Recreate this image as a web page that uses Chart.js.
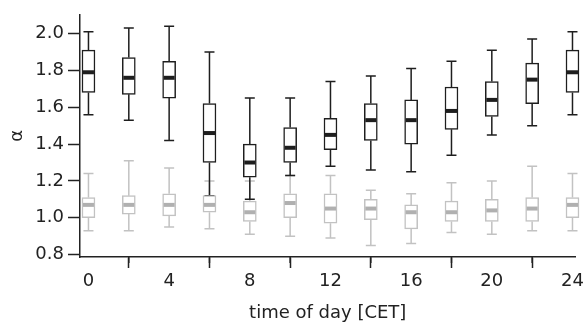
<!DOCTYPE html>
<html>
<head>
<meta charset="utf-8">
<script src="https://cdn.jsdelivr.net/npm/chart.js@4.4.0/dist/chart.umd.min.js"></script>
<style>
    html, body { margin: 0; padding: 0; background: #fff; }
    #wrap { width: 587px; height: 325px; position: relative; }
</style>
</head>
<body>
<div id="wrap"><canvas id="chart"></canvas></div>
<script>

// ==========================
// DATA
// ==========================

const hours = [0, 2, 4, 6, 8, 10, 12, 14, 16, 18, 20, 22, 24];

const blackMin = [1.56, 1.53, 1.42, 1.12, 1.10, 1.23, 1.28, 1.26, 1.25, 1.34, 1.45, 1.50, 1.56];
const blackQ1  = [1.68, 1.67, 1.65, 1.30, 1.22, 1.30, 1.37, 1.42, 1.40, 1.48, 1.55, 1.62, 1.68];
const blackMed = [1.79, 1.76, 1.76, 1.46, 1.30, 1.38, 1.45, 1.53, 1.53, 1.58, 1.64, 1.75, 1.79];
const blackQ3  = [1.91, 1.87, 1.85, 1.62, 1.40, 1.49, 1.54, 1.62, 1.64, 1.71, 1.74, 1.84, 1.91];
const blackMax = [2.01, 2.03, 2.04, 1.90, 1.65, 1.65, 1.74, 1.77, 1.81, 1.85, 1.91, 1.97, 2.01];

const grayMin = [0.93, 0.93, 0.95, 0.94, 0.91, 0.90, 0.89, 0.85, 0.86, 0.92, 0.91, 0.93, 0.93];
const grayQ1  = [1.00, 1.02, 1.01, 1.03, 0.98, 1.00, 0.97, 0.99, 0.94, 0.98, 0.98, 0.98, 1.00];
const grayMed = [1.07, 1.07, 1.07, 1.07, 1.03, 1.08, 1.05, 1.05, 1.03, 1.03, 1.04, 1.05, 1.07];
const grayQ3  = [1.11, 1.12, 1.13, 1.12, 1.09, 1.13, 1.13, 1.10, 1.07, 1.09, 1.10, 1.11, 1.11];
const grayMax = [1.24, 1.31, 1.27, 1.20, 1.20, 1.23, 1.23, 1.15, 1.13, 1.19, 1.20, 1.28, 1.24];

const xTicks = [0, 4, 8, 12, 16, 20, 24];
const xMinorTicks = [2, 6, 10, 14, 18, 22];
const yTicks = [0.8, 1.0, 1.2, 1.4, 1.6, 1.8, 2.0];


// ==========================
// STYLE
// ==========================

const axisColor = "#222";
const blackColor = "#1e1e1e";
const grayColor = "#c2c2c2";
const grayMedColor = "#b0b0b0";
const fontFamily = "'DejaVu Sans', sans-serif";
const fontSize = 18;

const boxWidth = 13;
const capWidth = 10;


// ==========================
// BOX PLOT HELPERS
// ==========================

function drawWhiskers(chart, mins, q1s, q3s, maxs, color) {

    const ctx = chart.ctx;
    const x = chart.scales.x;
    const y = chart.scales.y;

    ctx.save();
    ctx.strokeStyle = color;
    ctx.lineWidth = 1.5;

    hours.forEach((h, i) => {

        const px = x.getPixelForValue(h);

        ctx.beginPath();
        ctx.moveTo(px, y.getPixelForValue(q3s[i]));
        ctx.lineTo(px, y.getPixelForValue(maxs[i]));
        ctx.moveTo(px, y.getPixelForValue(q1s[i]));
        ctx.lineTo(px, y.getPixelForValue(mins[i]));

        ctx.moveTo(px - capWidth / 2, y.getPixelForValue(maxs[i]));
        ctx.lineTo(px + capWidth / 2, y.getPixelForValue(maxs[i]));
        ctx.moveTo(px - capWidth / 2, y.getPixelForValue(mins[i]));
        ctx.lineTo(px + capWidth / 2, y.getPixelForValue(mins[i]));
        ctx.stroke();
    });

    ctx.restore();
}

function drawMedians(chart, meds, color) {

    const ctx = chart.ctx;
    const x = chart.scales.x;
    const y = chart.scales.y;

    ctx.save();
    ctx.strokeStyle = color;
    ctx.lineWidth = 4;

    hours.forEach((h, i) => {
        const px = x.getPixelForValue(h);
        const py = y.getPixelForValue(meds[i]);
        ctx.beginPath();
        ctx.moveTo(px - boxWidth / 2 + 1, py);
        ctx.lineTo(px + boxWidth / 2 - 1, py);
        ctx.stroke();
    });

    ctx.restore();
}

const boxPlugin = {
    id: "boxWhiskers",

    beforeDatasetsDraw(chart) {
        drawWhiskers(chart, grayMin, grayQ1, grayQ3, grayMax, grayColor);
        drawWhiskers(chart, blackMin, blackQ1, blackQ3, blackMax, blackColor);
    },

    afterDatasetsDraw(chart) {
        drawMedians(chart, grayMed, grayMedColor);
        drawMedians(chart, blackMed, blackColor);

        // minor ticks on the time axis
        const ctx = chart.ctx;
        const x = chart.scales.x;
        const bottom = chart.chartArea.bottom;

        ctx.save();
        ctx.strokeStyle = axisColor;
        ctx.lineWidth = 1.5;
        xMinorTicks.forEach(t => {
            const px = x.getPixelForValue(t);
            ctx.beginPath();
            ctx.moveTo(px, bottom);
            ctx.lineTo(px, bottom + 6);
            ctx.stroke();
        });
        ctx.restore();
    }
};


// ==========================
// CHART
// ==========================

const ctx = document.getElementById("chart").getContext("2d");

new Chart(ctx, {
    type: "bar",
    data: {
        datasets: [
            {
                data: hours.map((h, i) => ({ x: h, y: [blackQ1[i], blackQ3[i]] })),
                backgroundColor: "#fff",
                borderColor: blackColor,
                borderWidth: 1.5,
                borderSkipped: false,
                barThickness: boxWidth,
                grouped: false,
                clip: false
            },
            {
                data: hours.map((h, i) => ({ x: h, y: [grayQ1[i], grayQ3[i]] })),
                backgroundColor: "#fff",
                borderColor: grayColor,
                borderWidth: 1.5,
                borderSkipped: false,
                barThickness: boxWidth,
                grouped: false,
                clip: false
            }
        ]
    },
    options: {
        responsive: true,
        maintainAspectRatio: false,
        animation: false,
        layout: {
            padding: { top: 12, right: 10, left: 0, bottom: 0 }
        },
        plugins: {
            legend: { display: false },
            tooltip: { enabled: false }
        },
        scales: {
            x: {
                type: "linear",
                min: -0.42,
                max: 24.15,
                offset: false,
                afterBuildTicks: scale => {
                    scale.ticks = xTicks.map(v => ({ value: v }));
                },
                afterFit: scale => {
                    scale.height = 68;
                },
                grid: {
                    drawOnChartArea: false,
                    drawTicks: true,
                    tickLength: 11,
                    tickColor: axisColor,
                    tickWidth: 1.5
                },
                border: {
                    display: true,
                    color: axisColor,
                    width: 1.5
                },
                ticks: {
                    color: axisColor,
                    padding: 3,
                    maxRotation: 0,
                    font: { family: fontFamily, size: fontSize },
                    callback: v => String(v)
                },
                title: {
                    display: true,
                    text: "time of day [CET]",
                    color: axisColor,
                    font: { family: fontFamily, size: fontSize },
                    padding: { top: 0, bottom: 1 }
                }
            },
            y: {
                min: 0.787,
                max: 2.102,
                afterBuildTicks: scale => {
                    scale.ticks = yTicks.map(v => ({ value: v }));
                },
                afterFit: scale => {
                    scale.width = 80;
                },
                grid: {
                    drawOnChartArea: false,
                    drawTicks: true,
                    tickLength: 12,
                    tickColor: axisColor,
                    tickWidth: 1.5
                },
                border: {
                    display: true,
                    color: axisColor,
                    width: 1.5
                },
                ticks: {
                    color: axisColor,
                    padding: 4,
                    font: { family: fontFamily, size: fontSize },
                    callback: v => v.toFixed(1)
                },
                title: {
                    display: true,
                    text: "α",
                    color: axisColor,
                    font: { family: fontFamily, size: fontSize },
                    padding: { top: 7, bottom: 0 }
                }
            }
        }
    },
    plugins: [boxPlugin]
});

</script>
</body>
</html>
